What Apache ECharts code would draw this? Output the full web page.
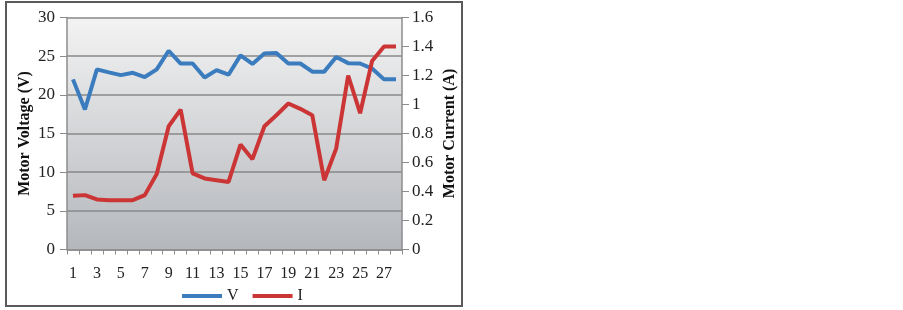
<!DOCTYPE html>
<html>
<head>
<meta charset="utf-8">
<script src="https://cdn.jsdelivr.net/npm/echarts@6/dist/echarts.min.js"></script>
<style>
html,body{margin:0;padding:0;background:#fff;}
#c{width:903px;height:310px;}
</style>
</head>
<body>
<div id="c"></div>
<script>
const categories = ['1','2','3','4','5','6','7','8','9','10','11','12','13','14','15','16','17','18','19','20','21','22','23','24','25','26','27','28'];
const voltage = [22.0,18.1,23.3,22.9,22.55,22.85,22.3,23.3,25.7,24.05,24.05,22.25,23.2,22.6,25.1,24.0,25.35,25.4,24.05,24.05,23.0,23.0,24.9,24.1,24.05,23.4,22.0,22.0];
const current = [0.37,0.375,0.345,0.34,0.34,0.34,0.375,0.52,0.85,0.965,0.525,0.49,0.478,0.466,0.724,0.623,0.85,0.926,1.007,0.97,0.926,0.478,0.697,1.2,0.94,1.3,1.4,1.4];
const voltageTicks = {min:0, max:30, interval:5};
const currentTicks = {min:0, max:1.6, interval:0.2};

const font = 'Liberation Serif';
const chart = echarts.init(document.getElementById('c'), null, {renderer:'canvas'});
chart.setOption({
  animation:false,
  backgroundColor:'#ffffff',
  textStyle:{fontFamily:font},
  graphic:[{
    type:'rect', z:-10, silent:true,
    shape:{x:6, y:2, width:456, height:304},
    style:{fill:'#ffffff', stroke:'#5a5a5a', lineWidth:2}
  }],
  grid:{
    left:67, right:501, top:17.5, bottom:60.5,
    show:true, borderWidth:0,
    backgroundColor:new echarts.graphic.LinearGradient(0,0,0,1,[
      {offset:0, color:'#f3f3f3'},
      {offset:1, color:'#b4b7bc'}
    ])
  },
  legend:{
    top:288, left:182, padding:0,
    itemWidth:40, itemHeight:4, itemGap:14,
    icon:'rect',
    textStyle:{fontFamily:font, fontSize:16, color:'#222'},
    data:['V','I']
  },
  xAxis:{
    type:'category', data:categories, boundaryGap:true,
    axisLine:{lineStyle:{color:'#8c8c8c', width:1.5}},
    axisTick:{show:true, interval:0, length:5, lineStyle:{color:'#8c8c8c'}},
    axisLabel:{interval:1, margin:16, fontFamily:font, fontSize:16, color:'#222'}
  },
  yAxis:[{
    type:'value', min:voltageTicks.min, max:voltageTicks.max, interval:voltageTicks.interval,
    name:'Motor Voltage (V)', nameLocation:'middle', nameGap:34, nameRotate:90,
    nameTextStyle:{fontFamily:font, fontSize:16, fontWeight:'bold', color:'#111'},
    axisLine:{show:true, lineStyle:{color:'#8c8c8c', width:1.5}},
    axisTick:{show:true, length:7, lineStyle:{color:'#8c8c8c'}},
    axisLabel:{margin:12, fontFamily:font, fontSize:17, color:'#222'},
    splitLine:{show:true, lineStyle:{color:'#888888', width:1.5}}
  },{
    type:'value', position:'right', min:currentTicks.min, max:currentTicks.max, interval:currentTicks.interval,
    name:'Motor Current (A)', nameLocation:'middle', nameGap:40, nameRotate:90,
    nameTextStyle:{fontFamily:font, fontSize:16, fontWeight:'bold', color:'#111'},
    axisLine:{show:true, lineStyle:{color:'#8c8c8c', width:1.5}},
    axisTick:{show:true, length:7, lineStyle:{color:'#8c8c8c'}},
    axisLabel:{margin:10, fontFamily:font, fontSize:17, color:'#222',
      formatter:function(v){return String(+v.toFixed(1));}},
    splitLine:{show:false}
  }],
  series:[{
    name:'V', type:'line', yAxisIndex:0, data:voltage,
    showSymbol:false, symbol:'none',
    lineStyle:{color:'#3b7cbf', width:4},
    itemStyle:{color:'#3b7cbf'}
  },{
    name:'I', type:'line', yAxisIndex:1, data:current,
    showSymbol:false, symbol:'none',
    lineStyle:{color:'#cc3535', width:4},
    itemStyle:{color:'#cc3535'}
  }]
});
</script>
</body>
</html>
